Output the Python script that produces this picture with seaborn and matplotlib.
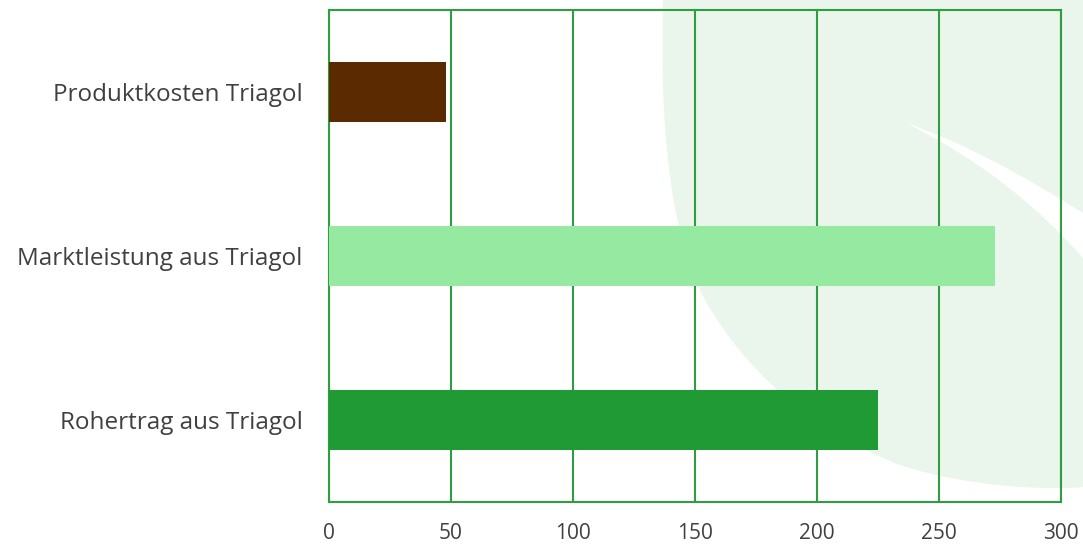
import numpy as np
import pandas as pd
import seaborn as sns
import matplotlib

matplotlib.use("Agg")
import matplotlib.pyplot as plt
from matplotlib.path import Path
from matplotlib.patches import PathPatch

categories = ["Produktkosten Triagol", "Marktleistung aus Triagol", "Rohertrag aus Triagol"]
values = [48, 273, 225]
bar_colors = ["#5C2A00", "#95E9A0", "#209A35"]
x_ticks = [0, 50, 100, 150, 200, 250, 300]

df = pd.DataFrame({"Kategorie": categories, "Wert": values})

grid_green = "#2E9E3E"
plot_style = {
    "axes.facecolor": "none",
    "figure.facecolor": "white",
    "axes.edgecolor": grid_green,
    "axes.linewidth": 1.5,
    "axes.grid": True,
    "grid.color": grid_green,
    "grid.linewidth": 1.5,
    "xtick.color": "#404040",
    "ytick.color": "#404040",
}
sns.set_theme(style="white", rc=plot_style)
plt.rcParams["font.family"] = ["Open Sans", "DejaVu Sans"]

fig = plt.figure(figsize=(10.83, 5.45), dpi=100)
W, H = 1083, 545


def px(x, y):
    return (x / W, 1 - y / H)


# light leaf decoration in the background
leaf_verts = [
    px(663, 0),
    px(660, 120), px(668, 230), px(705, 300),
    px(745, 370), px(810, 430), px(900, 465),
    px(970, 488), px(1050, 490), px(1083, 487),
    px(1083, 0),
    px(663, 0),
]
leaf_codes = [Path.MOVETO,
              Path.CURVE4, Path.CURVE4, Path.CURVE4,
              Path.CURVE4, Path.CURVE4, Path.CURVE4,
              Path.CURVE4, Path.CURVE4, Path.CURVE4,
              Path.LINETO, Path.CLOSEPOLY]
fig.patches.append(PathPatch(Path(leaf_verts, leaf_codes), transform=fig.transFigure,
                             facecolor="#EAF5EC", edgecolor="none", zorder=0))

stripe_verts = [
    px(906, 123),
    px(970, 145), px(1030, 180), px(1083, 213),
    px(1083, 258),
    px(1045, 215), px(990, 165), px(906, 123),
    px(906, 123),
]
stripe_codes = [Path.MOVETO,
                Path.CURVE4, Path.CURVE4, Path.CURVE4,
                Path.LINETO,
                Path.CURVE4, Path.CURVE4, Path.CURVE4,
                Path.CLOSEPOLY]
fig.patches.append(PathPatch(Path(stripe_verts, stripe_codes), transform=fig.transFigure,
                             facecolor="white", edgecolor="none", zorder=0))

ax = fig.add_axes([329 / W, 1 - 502 / H, (1061 - 329) / W, (502 - 10) / H])
ax.set_zorder(2)
sns.barplot(data=df, x="Wert", y="Kategorie", hue="Kategorie", palette=bar_colors,
            orient="h", width=0.36, saturation=1, linewidth=0, legend=False,
            ax=ax, zorder=3)

ax.set_xlim(0, 300)
ax.set_ylim(2.5, -0.5)
ax.set_xticks(x_ticks)
ax.grid(axis="y", visible=False)
ax.grid(axis="x", visible=True)
ax.set_axisbelow(True)
for s in ax.spines.values():
    s.set_visible(True)
    s.set_color(grid_green)
    s.set_linewidth(1.5)
ax.set_xlabel("")
ax.set_ylabel("")
ax.tick_params(axis="x", length=0, pad=15, labelsize=15)
ax.tick_params(axis="y", length=0, pad=19, labelsize=17.5)

plt.savefig("out.png", dpi=100)
